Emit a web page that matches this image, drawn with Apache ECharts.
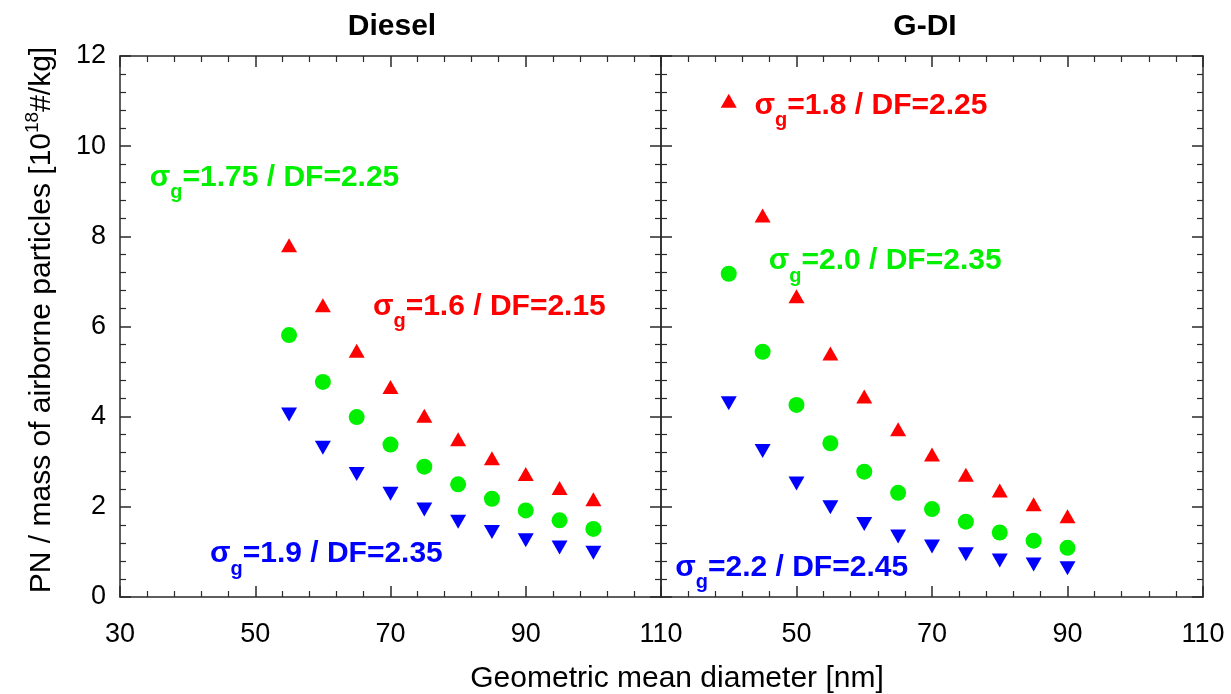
<!DOCTYPE html>
<html>
<head>
<meta charset="utf-8">
<script src="https://cdn.jsdelivr.net/npm/echarts@6/dist/echarts.min.js"></script>
<style>
  html, body { margin: 0; background: #fff; }
  #chart { width: 1231px; height: 694px; }
</style>
</head>
<body>
<div id="chart"></div>
<script>
  // data
  const dieselX = [55, 60, 65, 70, 75, 80, 85, 90, 95, 100]
  const dieselRed = [7.80, 6.47, 5.46, 4.66, 4.02, 3.50, 3.08, 2.73, 2.42, 2.17]
  const dieselGreen = [5.81, 4.77, 3.99, 3.38, 2.89, 2.50, 2.18, 1.92, 1.70, 1.51]
  const dieselBlue = [4.05, 3.31, 2.73, 2.29, 1.94, 1.67, 1.44, 1.26, 1.10, 0.98]

  const gdiX = [40, 45, 50, 55, 60, 65, 70, 75, 80, 85, 90]
  const gdiRed = [11.01, 8.46, 6.67, 5.40, 4.45, 3.72, 3.16, 2.71, 2.36, 2.06, 1.79]
  const gdiGreen = [7.17, 5.44, 4.26, 3.41, 2.78, 2.31, 1.95, 1.67, 1.43, 1.25, 1.09]
  const gdiBlue = [4.30, 3.24, 2.52, 1.99, 1.62, 1.34, 1.12, 0.95, 0.81, 0.72, 0.64]

  const panelTitles = ['Diesel', 'G-DI']
  // annotation anchors: [panel, x, y, sigma, DF, colour key]
  const notes = [
    [0, 34.4, 9.28, '1.75', '2.25', 'green'],
    [0, 67.4, 6.42, '1.6', '2.15', 'red'],
    [0, 43.3, 0.93, '1.9', '2.35', 'blue'],
    [1, 43.8, 10.88, '1.8', '2.25', 'red'],
    [1, 45.9, 7.43, '2.0', '2.35', 'green'],
    [1, 32.1, 0.63, '2.2', '2.45', 'blue'],
  ]

  const colors = { red: '#ff0000', green: '#00f000', blue: '#0000ff' }
  const font = 'Liberation Sans, Arial, sans-serif'
  const axisColor = '#2a2a2a'

  const mychart = echarts.init(document.getElementById('chart'))

  const grids = [
    { left: 120, top: 56, width: 541, height: 541 },
    { left: 661, top: 56, width: 542, height: 541 },
  ]

  const tickBase = (showLabel, pos, gridIndex, kind) => {
    const ax = {
      gridIndex,
      position: pos,
      type: 'value',
      min: kind === 'x' ? 30 : 0,
      max: kind === 'x' ? 110 : 12,
      interval: kind === 'x' ? 20 : 2,
      axisLine: { show: true, onZero: false, lineStyle: { color: axisColor, width: 1.5 } },
      axisTick: { show: true, inside: true, length: 11, lineStyle: { color: axisColor, width: 1.5 } },
      minorTick: { show: true, splitNumber: 5, length: 6, lineStyle: { color: axisColor, width: 1.2 } },
      splitLine: { show: false },
      axisLabel: { show: showLabel, color: '#000', fontSize: 27, fontFamily: font, margin: kind === 'x' ? 24 : 14 },
    }
    return ax
  }

  const xAxes = []
  const yAxes = []
  for (let g = 0; g < 2; g++) {
    const bottom = tickBase(true, 'bottom', g, 'x')
    if (g === 1) bottom.axisLabel.formatter = v => (v === 30 ? '' : v)
    xAxes.push(bottom)
    xAxes.push(tickBase(false, 'top', g, 'x'))
    yAxes.push(tickBase(g === 0, 'left', g, 'y'))
    yAxes.push(tickBase(false, 'right', g, 'y'))
  }

  const pts = (xs, ys) => xs.map((x, i) => [x, ys[i]])

  const markerSeries = (name, g, data, color, shape) => ({
    name,
    type: 'scatter',
    xAxisIndex: g * 2,
    yAxisIndex: g * 2,
    data,
    symbol: shape === 'circle' ? 'circle' : 'triangle',
    symbolSize: shape === 'circle' ? 16 : [16, 14],
    symbolRotate: shape === 'down' ? 180 : 0,
    itemStyle: { color, opacity: 1 },
    silent: true,
  })

  const series = [
    markerSeries('diesel-red', 0, pts(dieselX, dieselRed), colors.red, 'up'),
    markerSeries('diesel-green', 0, pts(dieselX, dieselGreen), colors.green, 'circle'),
    markerSeries('diesel-blue', 0, pts(dieselX, dieselBlue), colors.blue, 'down'),
    markerSeries('gdi-red', 1, pts(gdiX, gdiRed), colors.red, 'up'),
    markerSeries('gdi-green', 1, pts(gdiX, gdiGreen), colors.green, 'circle'),
    markerSeries('gdi-blue', 1, pts(gdiX, gdiBlue), colors.blue, 'down'),
  ]

  // annotation texts, drawn as label-only points
  notes.forEach(n => {
    const c = colors[n[5]]
    series.push({
      type: 'scatter',
      xAxisIndex: n[0] * 2,
      yAxisIndex: n[0] * 2,
      symbolSize: 0,
      silent: true,
      itemStyle: { opacity: 1 },
      data: [[n[1], n[2]]],
      label: {
        show: true,
        position: 'right',
        distance: 0,
        opacity: 1,
        formatter: `{s|σ}{sub|g}{t|=${n[3]} / DF=${n[4]}}`,
        rich: {
          s: { fontSize: 30, fontWeight: 'bold', color: c, fontFamily: font, lineHeight: 32, verticalAlign: 'top' },
          sub: { fontSize: 20, fontWeight: 'bold', color: c, fontFamily: font, lineHeight: 20, padding: [20, 0, 0, 0], verticalAlign: 'top' },
          t: { fontSize: 30, fontWeight: 'bold', color: c, fontFamily: font, lineHeight: 32, verticalAlign: 'top' },
        },
      },
    })
  })

  const option = {
    animation: false,
    backgroundColor: '#fff',
    grid: grids.map(g => Object.assign({ containLabel: false }, g)),
    xAxis: xAxes,
    yAxis: yAxes,
    series,
    graphic: [
      {
        type: 'text', x: 392, y: 27,
        style: { text: panelTitles[0], align: 'center', verticalAlign: 'middle', font: `bold 30px ${font}`, fill: '#000' },
      },
      {
        type: 'text', x: 925, y: 27,
        style: { text: panelTitles[1], align: 'center', verticalAlign: 'middle', font: `bold 30px ${font}`, fill: '#000' },
      },
      {
        type: 'text', x: 677, y: 679,
        style: { text: 'Geometric mean diameter [nm]', align: 'center', verticalAlign: 'middle', font: `30px ${font}`, fill: '#000' },
      },
      {
        type: 'text', x: 40, y: 320, rotation: Math.PI / 2,
        style: {
          text: '{m|PN / mass of airborne particles [10}{sup|18}{m|#/kg]}',
          align: 'center', verticalAlign: 'middle',
          rich: {
            m: { fontSize: 30, fontFamily: font, fill: '#000', lineHeight: 34, verticalAlign: 'bottom' },
            sup: { fontSize: 19, fontFamily: font, fill: '#000', lineHeight: 20, padding: [0, 0, 15, 0], verticalAlign: 'bottom' },
          },
        },
      },
    ],
  }
  mychart.setOption(option)
</script>
</body>
</html>
